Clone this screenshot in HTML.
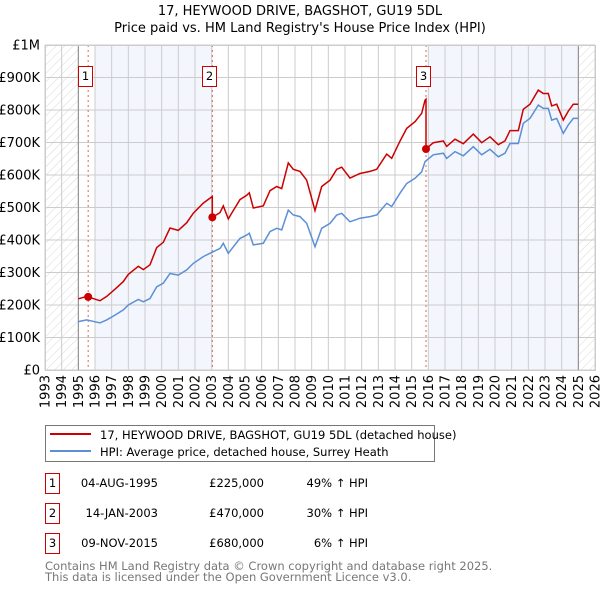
<!DOCTYPE html>
<html><head><meta charset="utf-8"><style>
body{margin:0;background:#fff;font-family:"DejaVu Sans","Liberation Sans",sans-serif;}
svg text{font-family:"DejaVu Sans","Liberation Sans",sans-serif;}
</style></head><body>
<svg id="c" width="600" height="590" xmlns="http://www.w3.org/2000/svg">
<defs><pattern id="hatch" width="6" height="6" patternUnits="userSpaceOnUse" patternTransform="rotate(45)"><line x1="0" y1="0" x2="0" y2="6" stroke="#d8d8d8" stroke-width="1"/></pattern></defs>
<text x="300" y="15" text-anchor="middle" font-size="13">17, HEYWOOD DRIVE, BAGSHOT, GU19 5DL</text>
<text x="300" y="32" text-anchor="middle" font-size="13">Price paid vs. HM Land Registry's House Price Index (HPI)</text>
<g id="plot"></g>
<g>
<rect x="45.5" y="425.5" width="389" height="36" fill="#fff" stroke="#777"/>
<line x1="50" y1="434" x2="91" y2="434" stroke="#cc0000" stroke-width="2"/>
<text x="100" y="439" font-size="11.5">17, HEYWOOD DRIVE, BAGSHOT, GU19 5DL (detached house)</text>
<line x1="50" y1="451" x2="91" y2="451" stroke="#5b8fd6" stroke-width="2"/>
<text x="100" y="456" font-size="11.5">HPI: Average price, detached house, Surrey Heath</text>
</g>
<g id="table" font-size="11.5"></g>
<text x="45" y="570" font-size="11.5" fill="#777">Contains HM Land Registry data © Crown copyright and database right 2025.</text>
<text x="45" y="581" font-size="11.5" fill="#777">This data is licensed under the Open Government Licence v3.0.</text>
</svg>
<script>
const hpiYears=[1995.0,1995.5,1996.1,1996.3,1996.7,1997.2,1997.7,1998.0,1998.6,1998.9,1999.3,1999.7,2000.1,2000.5,2001.0,2001.5,2001.9,2002.5,2003.0,2003.5,2003.7,2004.0,2004.3,2004.7,2005.1,2005.26,2005.5,2006.1,2006.5,2006.9,2007.2,2007.6,2007.9,2008.3,2008.7,2009.2,2009.6,2010.1,2010.5,2010.8,2011.3,2011.9,2012.5,2012.9,2013.5,2013.8,2014.3,2014.7,2015.2,2015.6,2015.8,2016.3,2016.9,2017.1,2017.6,2018.1,2018.7,2019.2,2019.7,2020.2,2020.6,2020.9,2021.4,2021.7,2022.1,2022.6,2022.9,2023.2,2023.4,2023.7,2024.1,2024.4,2024.7,2025.0];
const hpiValues=[149,154,147,145,154,169,185,200,217,210,220,256,267,297,292,308,328,349,362,374,390,359,379,405,415,421,385,390,426,436,431,492,477,472,451,379,436,451,477,482,456,467,472,477,513,503,544,574,590,610,641,662,667,651,672,659,687,662,679,656,667,697,697,759,774,815,805,805,769,774,728,754,774,774];
const saleYears=[1995.59,2003.04,2015.86];
const salePrices=[225,470,680];
const saleDates=["04-AUG-1995","14-JAN-2003","09-NOV-2015"];
const salePriceLabels=["£225,000","£470,000","£680,000"];
const saleDiffs=["49% ↑ HPI","30% ↑ HPI","6% ↑ HPI"];
const yTicks=[0,100,200,300,400,500,600,700,800,900,1000];
const yTickLabels=["£0","£100K","£200K","£300K","£400K","£500K","£600K","£700K","£800K","£900K","£1M"];
const xTicks=[1993,1994,1995,1996,1997,1998,1999,2000,2001,2002,2003,2004,2005,2006,2007,2008,2009,2010,2011,2012,2013,2014,2015,2016,2017,2018,2019,2020,2021,2022,2023,2024,2025,2026];

const L=45,R=595,T=45,B=370;
const X=y=>L+(y-1993)/(2026-1993)*(R-L);
const Y=v=>B-v/1000*(B-T);
const NS="http://www.w3.org/2000/svg";
const plot=document.getElementById('plot');
function mk(tag,attrs,parent){const e=document.createElementNS(NS,tag);for(const k in attrs)e.setAttribute(k,attrs[k]);(parent||plot).appendChild(e);return e;}
function hpiAt(t){for(let i=1;i<hpiYears.length;i++){if(t<=hpiYears[i]){const f=(t-hpiYears[i-1])/(hpiYears[i]-hpiYears[i-1]);return hpiValues[i-1]+f*(hpiValues[i]-hpiValues[i-1]);}}return hpiValues[hpiValues.length-1];}

let e;
e=mk('rect',{x:X(1996),y:T,width:X(2003.04)-X(1996),height:B-T,fill:'#f3f6fd'});


e=mk('rect',{x:X(2016),y:T,width:X(2025)-X(2016),height:B-T,fill:'#f3f6fd'});


e=mk('rect',{x:L,y:T,width:X(1995)-L,height:B-T,fill:'url(#hatch)'});


e=mk('rect',{x:X(2025),y:T,width:R-X(2025),height:B-T,fill:'url(#hatch)'});



yTicks.forEach((v,i)=>{
 e=mk('line',{x1:L,x2:R,y1:Y(v),y2:Y(v),stroke:'#ccc','stroke-width':1});
 
 
 e=mk('text',{x:L-5,y:Y(v)+4.5,'text-anchor':'end','font-size':13});
 e.textContent=yTickLabels[i];
 
 
});
xTicks.forEach(t=>{
 e=mk('line',{x1:X(t),x2:X(t),y1:T,y2:B,stroke:'#ccc','stroke-width':1});
 
 
 e=mk('text',{x:0,y:0,'text-anchor':'end','font-size':13,transform:`translate(${X(t)+4.5},${B+5}) rotate(-90)`});
 e.textContent=t;
 
 
});
e=mk('line',{x1:X(1995),x2:X(1995),y1:T,y2:B,stroke:'#888','stroke-width':1});


e=mk('line',{x1:X(2025),x2:X(2025),y1:T,y2:B,stroke:'#888','stroke-width':1});



saleYears.forEach((t,i)=>{
 e=mk('line',{x1:X(t),x2:X(t),y1:T,y2:B,stroke:'#e06060','stroke-width':1,'stroke-dasharray':'2,3'});
 
 
});

const hp=hpiYears.map((t,i)=>X(t).toFixed(1)+','+Y(hpiValues[i]).toFixed(1)).join(' ');
e=mk('polyline',{points:hp,fill:'none',stroke:'#5b8fd6','stroke-width':1.5});



const ratios=saleYears.map((t,i)=>salePrices[i]/hpiAt(t));
const seq=[];
let prevK=0;
hpiYears.forEach((t,i)=>{
 let k=0;for(let j=1;j<saleYears.length;j++)if(t>=saleYears[j])k=j;
 if(k!==prevK){const s=saleYears[k];seq.push([s,hpiAt(s)*ratios[prevK]]);seq.push([s,salePrices[k]]);prevK=k;}
 seq.push([t,hpiValues[i]*ratios[k]]);
});
e=mk('polyline',{points:seq.map(p=>X(p[0]).toFixed(1)+','+Y(p[1]).toFixed(1)).join(' '),fill:'none',stroke:'#cc0000','stroke-width':1.5});



saleYears.forEach((t,i)=>{
 e=mk('circle',{cx:X(t),cy:Y(salePrices[i]),r:4,fill:'#cc0000'});
 
 
 const bx=Math.round(X(t)-10)+0.5;
 e=mk('rect',{x:bx,y:66.5,width:14,height:20,fill:'#fff',stroke:'#cc0000','stroke-width':1});
 
 
 e=mk('text',{x:bx+7,y:80,'text-anchor':'middle','font-size':11.5});
 e.textContent=i+1;
 
 
});
e=mk('rect',{x:L+0.5,y:T+0.5,width:R-L,height:B-T,fill:'none',stroke:'#ccc'});



const tbl=document.getElementById('table');
saleYears.forEach((t,i)=>{
 const cy=483+i*30;
 e=mk('rect',{x:45.5,y:cy-9.5,width:14,height:20,fill:'none',stroke:'#cc0000'},tbl);
 
 
 e=mk('text',{x:52.5,y:cy+4,'text-anchor':'middle'},tbl);e.textContent=i+1;
 
 
 e=mk('text',{x:158,y:cy+4,'text-anchor':'end'},tbl);e.textContent=saleDates[i];
 
 
 e=mk('text',{x:264,y:cy+4,'text-anchor':'end'},tbl);e.textContent=salePriceLabels[i];
 
 
 e=mk('text',{x:368,y:cy+4,'text-anchor':'end'},tbl);e.textContent=saleDiffs[i];
 
 
});
</script>
</body></html>
